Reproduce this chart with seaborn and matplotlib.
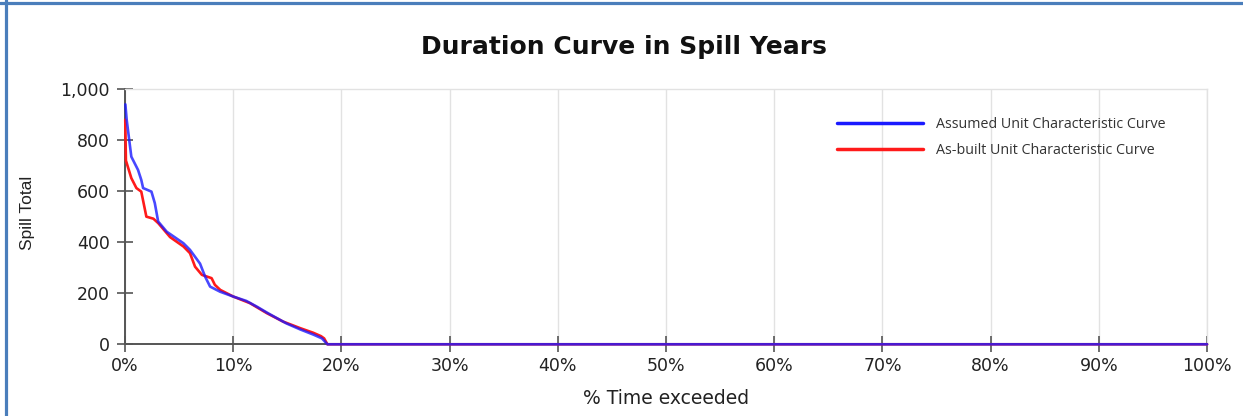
import pandas as pd
import seaborn as sns
import matplotlib.pyplot as plt
from matplotlib.lines import Line2D
from matplotlib.ticker import FuncFormatter, MultipleLocator

# Curvas de duración (% tiempo excedido vs total vertido)
assumed_x = [0.03, 0.15, 0.58, 1.2, 1.5, 1.67, 2.44, 2.75, 3.06, 3.85, 5.39, 6.0,
             6.93, 7.4, 7.86, 8.78, 10.0, 11.2, 12.2, 13.2, 14.9, 16.2, 17.4,
             18.2, 18.7, 100]
assumed_y = [940, 880, 735, 683, 644, 612, 598, 553, 481, 441, 396, 370,
             316, 265, 226, 206, 187, 170, 147, 122, 82, 58, 38,
             23, 0, 0]

asbuilt_x = [0.02, 0.08, 0.58, 1.05, 1.5, 1.97, 2.62, 3.08, 4.16, 5.4, 6.0, 6.47,
             7.1, 8.0, 8.3, 8.8, 10.0, 11.55, 13.1, 14.6, 16.2, 17.4, 18.1,
             18.4, 18.7, 100]
asbuilt_y = [880, 720, 651, 612, 598, 500, 492, 474, 420, 383, 357, 304,
             272, 259, 233, 213, 187, 161, 122, 89, 63, 45, 32,
             23, 0, 0]

labels = ['As-built Unit Characteristic Curve', 'Assumed Unit Characteristic Curve']

df = pd.concat([
    pd.DataFrame({'x': asbuilt_x, 'y': asbuilt_y, 'curva': labels[0]}),
    pd.DataFrame({'x': assumed_x, 'y': assumed_y, 'curva': labels[1]}),
])

sns.set_style('white')
plt.rcParams['font.family'] = ['DejaVu Sans']

fig = plt.figure(figsize=(12.43, 4.16), dpi=100)
ax = fig.add_axes([0.1006, 0.1724, 0.8705, 0.6136])

sns.lineplot(data=df, x='x', y='y', hue='curva', estimator=None, sort=False,
             palette={labels[0]: '#ff1a1a', labels[1]: '#1a1aff'},
             linewidth=1.9, ax=ax)
for ln in ax.lines[:2]:
    ln.set_zorder(3)
    ln.set_clip_on(False)
ax.lines[1].set_alpha(0.8)

ax.set_xlim(0, 100)
ax.set_ylim(0, 1000)
ax.xaxis.set_major_locator(MultipleLocator(10))
ax.yaxis.set_major_locator(MultipleLocator(200))
ax.xaxis.set_major_formatter(FuncFormatter(lambda v, p: f'{v:.0f}%'))
ax.yaxis.set_major_formatter(FuncFormatter(lambda v, p: f'{v:,.0f}'))
ax.grid(axis='x', color='#e2e2e2', linewidth=1)
ax.grid(axis='y', visible=False)

for s in ['left', 'bottom']:
    ax.spines[s].set_color('#555555')
    ax.spines[s].set_linewidth(1.4)
for s in ['top', 'right']:
    ax.spines[s].set_color('#e2e2e2')
    ax.spines[s].set_linewidth(1)

ax.tick_params(axis='both', direction='inout', length=12, width=1.2,
               bottom=True, left=True,
               color='#555555', labelsize=12.5, labelcolor='#222222')
ax.tick_params(axis='x', pad=3)
ax.tick_params(axis='y', pad=5)

ax.set_xlabel('% Time exceeded', fontsize=13.5, color='#222222')
ax.set_ylabel('Spill Total', fontsize=12.5, color='#222222',
              family='Liberation Sans')
ax.xaxis.set_label_coords(0.5, -0.175)
ax.yaxis.set_label_coords(-0.083, 0.513)

fig.text(0.502, 0.887, 'Duration Curve in Spill Years', ha='center', va='center',
         fontsize=18, fontweight='bold', color='#111111')

handles, labs = ax.get_legend_handles_labels()
order = [1, 0]
leg = ax.legend([handles[i] for i in order], [labs[i] for i in order],
                loc='upper left', bbox_to_anchor=(0.658, 0.892), frameon=False,
                borderpad=0, borderaxespad=0, handlelength=6, handletextpad=0.9,
                labelspacing=0.8, prop={'family': 'Open Sans', 'size': 10.3})
for t in leg.get_texts():
    t.set_color('#333333')
for h in leg.get_lines():
    h.set_linewidth(2.5)
    h.set_alpha(1)

# marco azul de la imagen original
fig.add_artist(Line2D([0.0052, 0.0052], [0, 1], color='#4a7ebb', linewidth=2.3))
fig.add_artist(Line2D([0, 1], [0.9928, 0.9928], color='#4a7ebb', linewidth=2.3))

fig.savefig('out.png', dpi=100)
